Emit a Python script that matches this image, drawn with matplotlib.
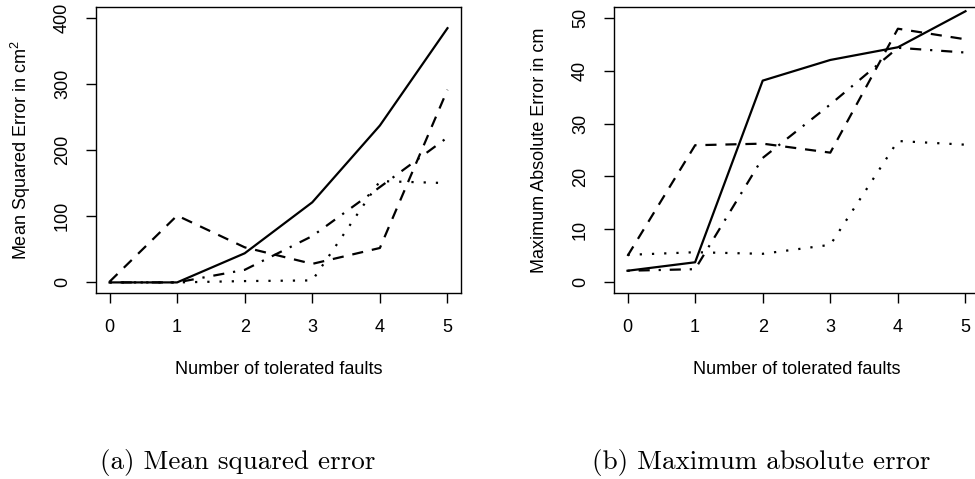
import matplotlib
matplotlib.use("Agg")
import matplotlib.pyplot as plt

faults = [0, 1, 2, 3, 4, 5]

# Mean squared error (cm^2)
mse_solid = [0, 0, 44, 121, 237, 384]
mse_dashed = [1, 101, 53, 28, 52, 291]
mse_dotdash = [0, 0, 19, 70, 144, 219]
mse_dotted = [0, 0, 2, 3, 153, 150]

# Maximum absolute error (cm)
mae_solid = [2.2, 3.8, 38.1, 42.0, 44.4, 51.2]
mae_dashed = [5.0, 25.9, 26.2, 24.5, 47.9, 45.9]
mae_dotdash = [2.2, 2.5, 23.5, 33.6, 44.3, 43.4]
mae_dotted = [5.2, 5.7, 5.4, 7.1, 26.7, 26.0]

xticks = [0, 1, 2, 3, 4, 5]
mse_yticks = [0, 100, 200, 300, 400]
mae_yticks = [0, 10, 20, 30, 40, 50]

plt.rcParams['font.family'] = ['Liberation Sans', 'DejaVu Sans']
plt.rcParams['mathtext.fontset'] = 'custom'
plt.rcParams['mathtext.rm'] = 'Liberation Sans'

W, H = 975, 479
fig = plt.figure(figsize=(W / 100, H / 100), dpi=100)

styles = {
    'solid': dict(linestyle='-'),
    'dashed': dict(linestyle=(0, (5, 4))),
    'dotdash': dict(linestyle=(0, (1, 4, 5, 4))),
    'dotted': dict(linestyle=(0, (1, 4.5))),
}
lw = 1.6
fs = 13


def make_axes(left_px, series, yticks, ylim, ylabel):
    ax = fig.add_axes([left_px / W, 1 - 293 / H, 365 / W, 286 / H])
    for key, vals in series:
        ax.plot(faults, vals, color='black', lw=lw, **styles[key])
    ax.set_xlim(-0.2, 5.2)
    ax.set_ylim(*ylim)
    ax.set_xticks(xticks)
    ax.set_yticks(yticks)
    ax.tick_params(direction='out', length=7, width=1, labelsize=fs, color='black')
    ax.tick_params(axis='x', pad=12)
    ax.tick_params(axis='y', pad=11)
    for lab in ax.get_yticklabels():
        lab.set_rotation(90)
        lab.set_va('center')
    for sp in ax.spines.values():
        sp.set_linewidth(1)
    ax.text(0.5, -77 / 286, 'Number of tolerated faults', transform=ax.transAxes,
            ha='center', va='center', fontsize=fs)
    ax.text(-75 / 365, 0.5, ylabel, transform=ax.transAxes, rotation=90,
            ha='center', va='center', fontsize=fs)
    return ax


make_axes(96, [('solid', mse_solid), ('dashed', mse_dashed),
               ('dotdash', mse_dotdash), ('dotted', mse_dotted)],
          mse_yticks, (-16, 416), r'Mean Squared Error in cm$^{\mathregular{2}}$')
make_axes(614, [('solid', mae_solid), ('dashed', mae_dashed),
                ('dotdash', mae_dotdash), ('dotted', mae_dotted)],
          mae_yticks, (-2, 52), 'Maximum Absolute Error in cm')

fig.text(238 / W, 1 - 463 / H, '(a) Mean squared error', family='cmr10',
         fontsize=19.5, ha='center', va='center')
fig.text(761 / W, 1 - 463 / H, '(b) Maximum absolute error', family='cmr10',
         fontsize=19.5, ha='center', va='center')

fig.savefig('out.png', dpi=100)
